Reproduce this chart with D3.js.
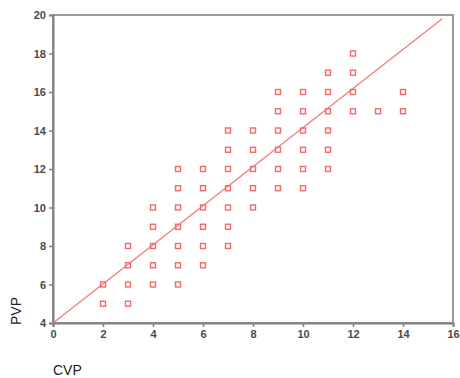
<!DOCTYPE html>
<html>
<head>
<meta charset="utf-8">
<script src="https://cdn.jsdelivr.net/npm/d3@7"></script>
<style>
  body { margin: 0; background: #fff; }
  svg { display: block; font-family: Arial, "Liberation Sans", sans-serif; }
</style>
</head>
<body>
<div id="chart"></div>
<script>
  // CVP values and the PVP readings seen at each one
  var cvpValues = [2, 3, 4, 5, 6, 7, 8, 9, 10, 11, 12, 13, 14];
  var pvpAtCvp = [
    [5, 6],
    [5, 6, 7, 8],
    [6, 7, 8, 9, 10],
    [6, 7, 8, 9, 10, 11, 12],
    [7, 8, 9, 10, 11, 12],
    [8, 9, 10, 11, 12, 13, 14],
    [10, 11, 12, 13, 14],
    [11, 12, 13, 14, 15, 16],
    [11, 12, 13, 14, 15, 16],
    [12, 13, 14, 15, 16, 17],
    [15, 16, 17, 18],
    [15],
    [15, 16]
  ];
  // fit line end points
  var fitX = [0, 15.57];
  var fitY = [4.0, 19.81];
  var xTicks = [0, 2, 4, 6, 8, 10, 12, 14, 16];
  var yTicks = [4, 6, 8, 10, 12, 14, 16, 18, 20];

  var points = [];
  cvpValues.forEach(function (c, i) {
    pvpAtCvp[i].forEach(function (p) {
      points.push({ cvp: c, pvp: p });
    });
  });

  var width = 460, height = 378;
  var margin = { top: 15, right: 7, bottom: 55, left: 53 };
  var w = width - margin.left - margin.right,
    h = height - margin.top - margin.bottom;

  var svg = d3.select("#chart")
    .append("svg")
    .attr("width", width)
    .attr("height", height);

  var g = svg.append("g")
    .attr("transform", "translate(" + margin.left + "," + margin.top + ")");

  var x = d3.scaleLinear().domain([0, 16]).range([0, w]);
  var y = d3.scaleLinear().domain([4, 20]).range([h, 0]);

  // frame
  g.append("rect")
    .attr("x", 0)
    .attr("y", 0)
    .attr("width", w)
    .attr("height", h)
    .attr("fill", "none")
    .attr("stroke", "#9a9a9a")
    .attr("stroke-width", 2);

  var yAxis = d3.axisLeft(y).tickValues(yTicks).tickSize(4).tickPadding(3);
  var xAxis = d3.axisBottom(x).tickValues(xTicks).tickSize(4).tickPadding(3);

  var ya = g.append("g").attr("class", "y axis").call(yAxis);
  var xa = g.append("g").attr("class", "x axis")
    .attr("transform", "translate(0," + h + ")")
    .call(xAxis);

  [ya, xa].forEach(function (a) {
    a.select(".domain").attr("stroke", "#808080").attr("stroke-width", 2);
    a.selectAll(".tick line").attr("stroke", "#808080").attr("stroke-width", 1.5);
    a.selectAll(".tick text")
      .attr("fill", "#4a4a4a")
      .style("font-size", "11px")
      .style("font-weight", "bold");
  });

  // fit line
  g.append("line")
    .attr("x1", x(fitX[0]))
    .attr("y1", y(fitY[0]))
    .attr("x2", x(fitX[1]))
    .attr("y2", y(fitY[1]))
    .attr("stroke", "#f47a7a")
    .attr("stroke-width", 1.3);

  // hollow square markers
  g.selectAll("rect.pt")
    .data(points)
    .enter()
    .append("rect")
    .attr("class", "pt")
    .attr("x", function (d) { return x(d.cvp) - 2.5; })
    .attr("y", function (d) { return y(d.pvp) - 2.5; })
    .attr("width", 5)
    .attr("height", 5)
    .attr("fill", "none")
    .attr("stroke", "#f26a6a")
    .attr("stroke-width", 1.4);

  svg.append("text")
    .attr("transform", "translate(21,311) rotate(-90)")
    .style("text-anchor", "middle")
    .style("font-size", "14px")
    .attr("fill", "#222")
    .text("PVP");

  svg.append("text")
    .attr("x", 53)
    .attr("y", 375)
    .style("font-size", "14px")
    .attr("fill", "#222")
    .text("CVP");
</script>
</body>
</html>
